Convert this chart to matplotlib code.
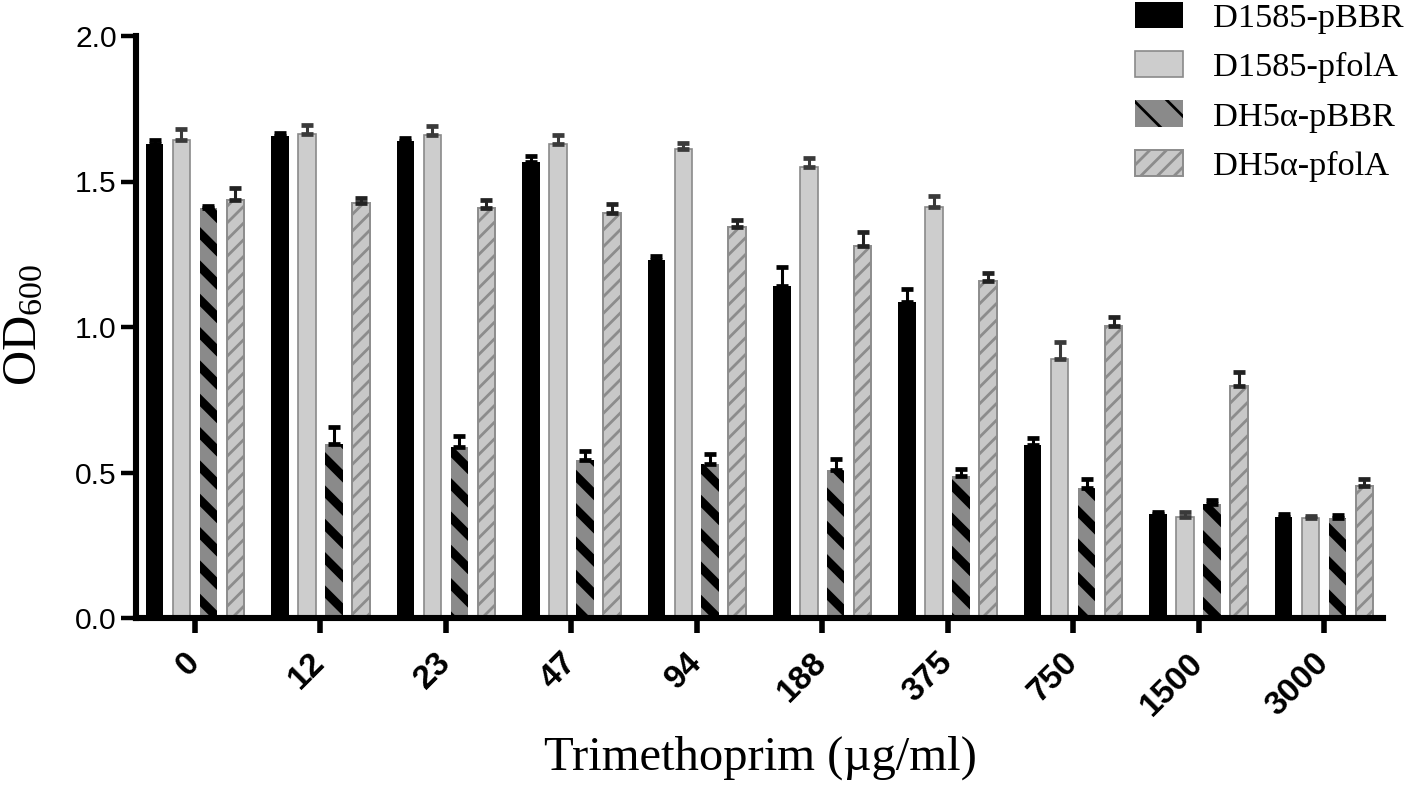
import numpy as np
import matplotlib
matplotlib.use('Agg')
import matplotlib.pyplot as plt
from matplotlib.patches import Patch

# ---------------- data ----------------
concentrations = ['0', '12', '23', '47', '94', '188', '375', '750', '1500', '3000']
series_names = ['D1585-pBBR', 'D1585-pfolA', 'DH5\u03b1-pBBR', 'DH5\u03b1-pfolA']

d1585_pbbr = [1.629, 1.657, 1.638, 1.566, 1.231, 1.140, 1.087, 0.594, 0.357, 0.347]
d1585_pbbr_err = [0.014, 0.010, 0.010, 0.023, 0.012, 0.067, 0.044, 0.023, 0.007, 0.010]

d1585_pfola = [1.644, 1.664, 1.660, 1.629, 1.612, 1.550, 1.412, 0.890, 0.347, 0.345]
d1585_pfola_err = [0.036, 0.031, 0.032, 0.031, 0.020, 0.030, 0.038, 0.060, 0.018, 0.007]

dh5a_pbbr = [1.409, 0.598, 0.587, 0.544, 0.529, 0.510, 0.487, 0.446, 0.392, 0.345]
dh5a_pbbr_err = [0.008, 0.058, 0.038, 0.029, 0.035, 0.036, 0.025, 0.032, 0.013, 0.008]

dh5a_pfola = [1.437, 1.425, 1.408, 1.392, 1.343, 1.280, 1.159, 1.004, 0.797, 0.453]
dh5a_pfola_err = [0.041, 0.017, 0.029, 0.032, 0.025, 0.045, 0.026, 0.031, 0.048, 0.025]

# ---------------- style ----------------
plt.rcParams['mathtext.fontset'] = 'custom'
plt.rcParams['mathtext.rm'] = 'Liberation Serif'
plt.rcParams['mathtext.it'] = 'Liberation Serif:italic'
plt.rcParams['mathtext.bf'] = 'Liberation Serif:bold'

W, H = 1418, 797
DPI = 200
fig = plt.figure(figsize=(W / DPI, H / DPI), dpi=DPI)
L, R, B, T = 136 / W, 1383 / W, 1 - 618 / H, 1 - 36 / H
ax = fig.add_axes([L, B, R - L, T - B])

x = np.arange(len(concentrations))
width = 0.14
step = 0.215
offsets = np.array([-1.5, -0.5, 0.5, 1.5]) * step

styles = [
    dict(facecolor='black', edgecolor='black', linewidth=0.0, leg_lw=0.0, hatch=None, hlw=1.0, ecol='black'),
    dict(facecolor='#cdcdcd', edgecolor='#8a8a8a', linewidth=0.6, leg_lw=0.6, hatch=None, hlw=1.0, ecol='#3a3a3a'),
    dict(facecolor='#8a8a8a', edgecolor='black', linewidth=0.0, leg_lw=0.0, hatch='\\\\', hlw=3.2, ecol='black'),
    dict(facecolor='#c8c8c8', edgecolor='#8c8c8c', linewidth=0.7, leg_lw=0.7, hatch='////', hlw=1.0, ecol='#222222'),
]
means = [d1585_pbbr, d1585_pfola, dh5a_pbbr, dh5a_pfola]
errs = [d1585_pbbr_err, d1585_pfola_err, dh5a_pbbr_err, dh5a_pfola_err]

handles = []
for i in range(4):
    st = styles[i]
    with plt.rc_context({'hatch.linewidth': st['hlw']}):
        bars = ax.bar(x + offsets[i], means[i], width=width, facecolor=st['facecolor'],
                      edgecolor=st['edgecolor'], linewidth=st['linewidth'],
                      hatch=st['hatch'], zorder=1)
        for b in bars:
            if hasattr(b, 'set_hatch_linewidth'):
                b.set_hatch_linewidth(st['hlw'])
        h = Patch(facecolor=st['facecolor'], edgecolor=st['edgecolor'],
                  linewidth=st['leg_lw'], hatch=st['hatch'])
        if hasattr(h, 'set_hatch_linewidth'):
            h.set_hatch_linewidth(st['hlw'])
        handles.append(h)
    yerr = np.vstack([np.zeros(len(errs[i])), errs[i]])
    ax.errorbar(x + offsets[i], means[i], yerr=yerr, fmt='none', ecolor=st['ecol'],
                elinewidth=1.1, capsize=2.3, capthick=1.7, zorder=2)

ax.set_xlim(-0.47, 9.47)
ax.set_ylim(0, 2.0)
ax.set_yticks([0.0, 0.5, 1.0, 1.5, 2.0])
ax.set_yticklabels(['0.0', '0.5', '1.0', '1.5', '2.0'], fontsize=10.8,
                   family='Liberation Sans')
ax.set_xticks(x)
ax.set_xticklabels(concentrations, rotation=45, ha='right', va='center',
                   rotation_mode='anchor', fontsize=12, fontweight='bold',
                   family='Liberation Sans')

for s in ['top', 'right']:
    ax.spines[s].set_visible(False)
for s in ['left', 'bottom']:
    ax.spines[s].set_linewidth(2.2)
    ax.spines[s].set_zorder(3)
ax.tick_params(axis='y', direction='out', length=5.4, width=1.6, pad=1.5, colors='black')
ax.tick_params(axis='x', direction='out', length=5.4, width=2.0, pad=9)

fig.text(760 / W, 1 - 758 / H, 'Trimethoprim (\u00b5g/ml)', ha='center', va='center',
         fontsize=17.5, family='Liberation Serif')
fig.text(22 / W, 1 - 325 / H, r'$\mathrm{OD}_{600}$', ha='center', va='center',
         rotation=90, fontsize=17.5)

fig.legend(handles, series_names, loc='upper right', bbox_to_anchor=(1405 / W, 1.0),
           frameon=False, prop={'family': 'Liberation Serif', 'size': 12.4},
           handlelength=1.4, handleheight=0.8, handletextpad=0.85,
           labelspacing=0.5, borderpad=0.05, borderaxespad=0)

fig.savefig('out.png', dpi=DPI)
